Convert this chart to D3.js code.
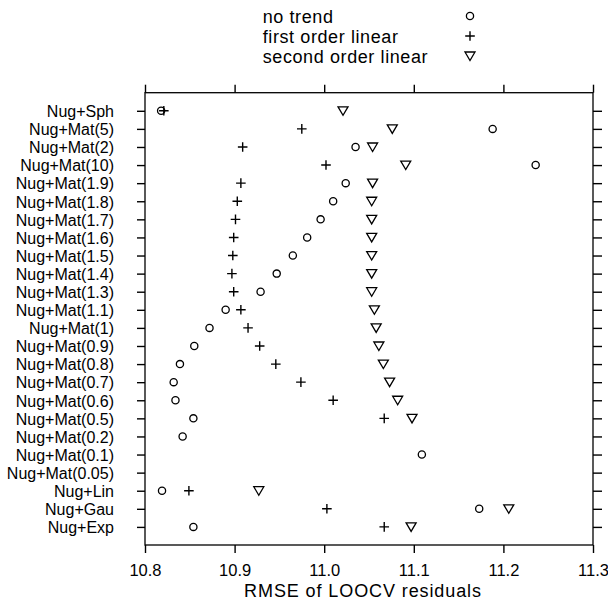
<!DOCTYPE html>
<html><head><meta charset="utf-8">
<script src="https://cdn.jsdelivr.net/npm/d3@7"></script>
<style>body{margin:0;background:#fff}text{font-family:"Liberation Sans",Arial,sans-serif;fill:#000}</style>
</head><body><svg id="c" width="608" height="605"></svg>
<script>
const categories = ["Nug+Sph","Nug+Mat(5)","Nug+Mat(2)","Nug+Mat(10)","Nug+Mat(1.9)","Nug+Mat(1.8)","Nug+Mat(1.7)","Nug+Mat(1.6)","Nug+Mat(1.5)","Nug+Mat(1.4)","Nug+Mat(1.3)","Nug+Mat(1.1)","Nug+Mat(1)","Nug+Mat(0.9)","Nug+Mat(0.8)","Nug+Mat(0.7)","Nug+Mat(0.6)","Nug+Mat(0.5)","Nug+Mat(0.2)","Nug+Mat(0.1)","Nug+Mat(0.05)","Nug+Lin","Nug+Gau","Nug+Exp"];
const noTrend = [10.818,11.188,11.035,11.236,11.024,11.010,10.996,10.981,10.965,10.947,10.929,10.890,10.872,10.855,10.839,10.832,10.834,10.854,10.842,11.109,null,10.819,11.173,10.854];
const firstOrder = [10.821,10.975,10.909,11.002,10.907,10.903,10.901,10.899,10.898,10.897,10.899,10.907,10.915,10.928,10.946,10.974,11.010,11.067,null,null,null,10.849,11.003,11.067];
const secondOrder = [11.021,11.076,11.054,11.091,11.054,11.053,11.053,11.053,11.053,11.053,11.053,11.056,11.058,11.061,11.066,11.073,11.082,11.098,null,null,null,10.927,11.206,11.097];
const xTicks = [10.8,10.9,11.0,11.1,11.2,11.3];
const legendLabels = ["no trend","first order linear","second order linear"];

const svg = d3.select("#c");
const L=145,R=593,T=92.7,B=545;
const x = d3.scaleLinear().domain([10.8,11.3]).range([L,R]);
const y = d3.scalePoint().domain(categories).range([T,B]).padding(1);

// box
svg.append("rect").attr("x",L).attr("y",T).attr("width",R-L).attr("height",B-T)
  .attr("fill","none").attr("stroke","#000").attr("stroke-width",1.3);

const fmt = d3.format(".1f");
const bx = svg.append("g").attr("transform",`translate(0,${B})`)
  .call(d3.axisBottom(x).tickValues(xTicks).tickFormat(fmt).tickSize(8).tickPadding(11));
const tx = svg.append("g").attr("transform",`translate(0,${T})`)
  .call(d3.axisTop(x).tickValues(xTicks).tickFormat("").tickSize(8));
const ly = svg.append("g").attr("transform",`translate(${L},0)`)
  .call(d3.axisLeft(y).tickSize(8).tickPadding(23));
const ry = svg.append("g").attr("transform",`translate(${R},0)`)
  .call(d3.axisRight(y).tickSize(9).tickFormat(""));
[bx,tx,ly,ry].forEach(g=>{
  g.select(".domain").remove();
  g.selectAll("line").attr("stroke","#000").attr("stroke-width",1.4);
  g.selectAll("text").attr("font-family","Liberation Sans, Arial, sans-serif").attr("fill","#000");
});
bx.selectAll("text").attr("font-size",16.5);
ly.selectAll("text").attr("font-size",16).attr("dy","0.36em");

svg.append("text").attr("x",363).attr("y",597).attr("text-anchor","middle")
  .attr("font-size",18).attr("letter-spacing","0.9px").text("RMSE of LOOCV residuals");

const sym = {
  circle: (g,cx,cy)=>g.append("circle").attr("cx",cx).attr("cy",cy).attr("r",3.6).attr("fill","none").attr("stroke","#000").attr("stroke-width",1.3),
  plus: (g,cx,cy)=>g.append("path").attr("d",`M${cx-4.8},${cy}H${cx+4.8}M${cx},${cy-4.8}V${cy+4.8}`).attr("stroke","#000").attr("stroke-width",1.4).attr("fill","none"),
  tri: (g,cx,cy)=>g.append("path").attr("d",`M${cx-5},${cy-4}L${cx+5},${cy-4}L${cx},${cy+4.5}Z`).attr("stroke","#000").attr("stroke-width",1.3).attr("fill","none")
};
const series = [[noTrend,"circle"],[firstOrder,"plus"],[secondOrder,"tri"]];
const pg = svg.append("g");
series.forEach(([vals,s])=>{
  vals.forEach((v,i)=>{ if(v!=null) sym[s](pg,x(v),y(categories[i])); });
});

// legend
const lg = svg.append("g");
legendLabels.forEach((t,i)=>{
  lg.append("text").attr("x",262.7).attr("y",22.7+i*20).attr("font-size",18).attr("letter-spacing","0.6px").text(t);
  sym[series[i][1]](lg,470,16+i*20);
});
</script></body></html>
